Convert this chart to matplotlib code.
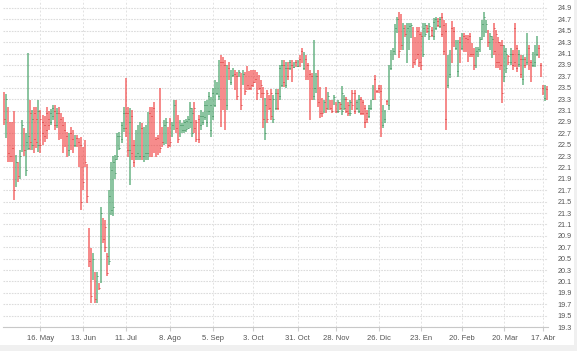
import matplotlib
matplotlib.use("Agg")
import matplotlib.pyplot as plt
from matplotlib.patches import Rectangle
import numpy as np

plt.rcParams['font.family'] = ['Liberation Sans Narrow', 'Liberation Sans', 'DejaVu Sans']

# daily OHLC (Apr 2016 - Apr 2017)
open_ = [23.35, 22.80, 23.05, 22.70, 22.85, 22.90, 21.80, 22.15, 21.95, 22.45,
         22.75, 22.05, 22.45, 23.05, 22.50, 23.05, 22.95, 22.50, 22.95, 22.90,
         22.85, 23.05, 22.95, 22.90, 23.00, 23.10, 22.85, 23.05, 22.95, 22.85,
         22.75, 22.65, 22.40, 22.70, 22.60, 22.50, 22.62, 22.55, 22.50, 22.35,
         22.50, 22.10, 20.95, 20.60, 20.20, 20.15, 19.80, 20.05, 20.15, 21.15,
         21.05, 20.55, 20.45, 21.35, 21.40, 22.00, 22.30, 22.45, 22.60, 22.80,
         23.05, 23.05, 22.40, 23.00, 22.50, 22.30, 22.35, 22.30, 22.80, 22.30,
         22.35, 22.35, 23.05, 23.00, 23.15, 22.60, 22.62, 22.55, 22.75, 22.55,
         22.60, 22.75, 22.90, 22.70, 22.85, 23.20, 22.95, 22.70, 22.75, 22.75,
         22.78, 22.80, 22.90, 22.70, 23.15, 22.90, 22.95, 22.85, 22.90, 22.98,
         22.90, 23.10, 22.75, 23.00, 23.20, 23.40, 23.35, 23.95, 23.95, 23.90,
         23.20, 23.85, 23.60, 23.72, 23.75, 23.70, 23.72, 23.70, 23.60, 23.70,
         23.80, 23.75, 23.75, 23.75, 23.70, 23.70, 23.65, 23.55, 23.40, 22.70,
         23.40, 23.30, 23.40, 22.95, 23.15, 23.40, 23.35, 23.55, 23.90, 23.55,
         23.85, 23.85, 23.90, 23.87, 23.95, 23.88, 24.00, 24.15, 23.85, 24.00,
         23.90, 23.75, 23.70, 23.35, 23.45, 23.70, 23.45, 23.25, 23.10, 23.45,
         23.15, 23.25, 23.25, 23.22, 23.20, 23.10, 23.22, 23.10, 23.15, 23.30,
         23.20, 23.05, 23.40, 23.40, 23.15, 23.10, 23.30, 23.25, 23.15, 23.05,
         23.00, 23.15, 23.30, 23.65, 23.45, 23.50, 23.45, 22.85, 22.95, 23.27,
         23.20, 23.85, 24.05, 24.15, 24.50, 24.75, 24.70, 24.25, 24.55, 24.05,
         24.25, 24.40, 24.50, 24.30, 24.50, 24.45, 24.40, 24.10, 24.45, 24.55,
         24.40, 24.52, 24.40, 24.55, 24.68, 24.58, 24.75, 24.60, 24.50, 23.55,
         23.75, 24.55, 24.50, 24.20, 23.80, 24.30, 24.20, 24.40, 24.38, 24.35,
         24.40, 24.25, 24.15, 23.90, 24.08, 24.15, 24.38, 24.45, 24.50, 24.45,
         24.20, 24.10, 24.55, 24.45, 24.30, 24.25, 24.25, 23.70, 23.85, 24.05,
         23.95, 24.10, 24.55, 24.20, 23.92, 24.00, 23.65, 24.00, 23.95, 24.20,
         23.95, 23.90, 23.95, 24.10, 24.20, 23.90, 23.50, 23.32, 23.48]
high = [23.43, 23.39, 23.16, 22.90, 22.90, 23.10, 22.32, 22.20, 22.40, 22.93,
        22.80, 22.70, 24.11, 23.29, 23.11, 23.16, 23.16, 23.29, 23.11, 23.02,
        23.00, 23.16, 23.10, 23.12, 23.20, 23.20, 23.15, 23.16, 23.05, 22.99,
        22.90, 22.72, 22.70, 22.81, 22.76, 22.67, 22.67, 22.62, 22.64, 22.46,
        22.58, 22.17, 21.04, 20.69, 20.60, 20.27, 20.27, 20.08, 21.41, 21.22,
        21.18, 20.60, 21.71, 22.20, 22.30, 22.32, 22.70, 22.72, 22.90, 23.16,
        23.67, 23.16, 23.14, 23.11, 22.58, 22.76, 22.85, 22.90, 22.88, 22.81,
        22.85, 23.08, 23.16, 23.16, 23.25, 22.64, 22.67, 23.50, 22.81, 22.94,
        22.97, 22.81, 22.97, 22.90, 23.29, 23.29, 23.02, 22.94, 22.88, 22.94,
        22.95, 23.00, 23.25, 23.15, 23.25, 22.94, 23.02, 23.11, 23.07, 23.27,
        23.29, 23.43, 23.33, 23.50, 23.64, 23.60, 23.99, 24.08, 24.04, 23.99,
        23.90, 23.95, 23.81, 23.85, 23.81, 23.78, 23.81, 23.76, 23.81, 23.78,
        23.88, 23.79, 23.81, 23.81, 23.81, 23.78, 23.72, 23.64, 23.51, 23.32,
        23.46, 23.37, 23.48, 23.37, 23.48, 23.48, 23.90, 23.99, 23.99, 23.95,
        23.95, 23.99, 23.99, 23.95, 23.99, 23.99, 24.08, 24.20, 24.13, 24.08,
        23.93, 23.81, 23.76, 24.34, 23.76, 23.81, 23.51, 23.32, 23.29, 23.51,
        23.43, 23.29, 23.29, 23.37, 23.25, 23.29, 23.25, 23.53, 23.37, 23.33,
        23.25, 23.29, 23.46, 23.46, 23.29, 23.37, 23.33, 23.29, 23.20, 23.11,
        23.20, 23.29, 23.55, 23.72, 23.46, 23.55, 23.55, 23.20, 23.11, 23.29,
        23.90, 24.16, 24.20, 24.62, 24.74, 24.83, 24.80, 24.64, 24.60, 24.64,
        24.64, 24.64, 24.57, 24.39, 24.57, 24.57, 24.48, 24.64, 24.64, 24.60,
        24.64, 24.57, 24.72, 24.74, 24.72, 24.74, 24.81, 24.69, 24.64, 24.08,
        24.16, 24.67, 24.57, 24.34, 24.34, 24.39, 24.46, 24.46, 24.43, 24.43,
        24.46, 24.29, 24.20, 24.22, 24.22, 24.39, 24.69, 24.83, 24.69, 24.51,
        24.46, 24.41, 24.64, 24.51, 24.39, 24.30, 24.34, 24.25, 24.20, 24.08,
        24.20, 24.16, 24.64, 24.25, 24.16, 24.08, 24.08, 24.04, 24.46, 24.25,
        23.99, 24.13, 24.25, 24.41, 24.25, 23.93, 23.55, 23.55, 23.53]
low = [22.85, 22.62, 22.20, 22.20, 22.20, 21.53, 21.76, 21.85, 21.90, 22.37,
       22.30, 21.95, 22.40, 22.40, 22.40, 22.35, 22.45, 22.37, 22.35, 22.50,
       22.55, 22.60, 22.75, 22.85, 22.93, 22.75, 22.80, 22.58, 22.60, 22.36,
       22.46, 22.29, 22.30, 22.41, 22.36, 22.46, 22.46, 22.11, 21.36, 21.71,
       22.11, 21.48, 20.36, 19.72, 20.13, 19.72, 19.72, 19.95, 20.08, 20.78,
       20.62, 20.20, 20.39, 21.27, 21.25, 21.90, 22.23, 22.40, 22.53, 22.72,
       22.64, 22.28, 21.79, 22.23, 22.11, 22.23, 22.23, 22.23, 22.23, 22.20,
       22.23, 22.23, 22.28, 22.28, 22.36, 22.28, 22.32, 22.36, 22.46, 22.50,
       22.51, 22.44, 22.46, 22.64, 22.76, 22.71, 22.53, 22.64, 22.71, 22.71,
       22.73, 22.78, 22.80, 22.64, 22.71, 22.55, 22.53, 22.76, 22.85, 22.94,
       22.81, 23.02, 22.64, 22.94, 23.16, 23.37, 23.29, 22.81, 23.11, 22.76,
       23.11, 23.64, 23.55, 23.69, 23.46, 23.29, 23.69, 23.11, 23.55, 23.37,
       23.46, 23.46, 23.46, 23.51, 23.58, 23.29, 23.46, 23.32, 22.79, 22.58,
       22.88, 23.11, 22.94, 22.88, 23.11, 23.11, 23.29, 23.51, 23.51, 23.49,
       23.64, 23.81, 23.60, 23.85, 23.86, 23.86, 23.86, 23.93, 23.81, 23.64,
       23.64, 22.94, 23.29, 23.29, 23.40, 23.16, 22.97, 22.99, 23.06, 23.06,
       23.11, 23.11, 23.06, 23.20, 23.06, 23.06, 23.11, 23.02, 23.11, 23.06,
       23.00, 23.00, 23.11, 23.04, 23.11, 23.06, 23.02, 23.02, 22.79, 22.88,
       22.97, 23.11, 23.29, 23.29, 23.40, 23.40, 22.64, 22.79, 22.88, 23.20,
       23.11, 23.81, 23.99, 24.08, 24.46, 24.02, 24.16, 24.16, 24.39, 23.94,
       24.16, 24.37, 23.85, 23.90, 24.01, 23.87, 23.81, 24.04, 24.39, 24.46,
       24.34, 24.39, 24.34, 24.51, 24.57, 24.55, 24.39, 24.08, 22.76, 23.50,
       23.67, 23.94, 24.22, 24.16, 23.69, 23.94, 24.16, 24.12, 24.12, 23.96,
       24.04, 24.04, 23.81, 23.85, 24.04, 24.13, 24.34, 24.39, 24.46, 24.22,
       24.16, 24.02, 24.08, 23.85, 23.85, 23.81, 23.23, 23.60, 23.76, 23.90,
       23.90, 23.81, 23.87, 23.78, 23.87, 23.67, 23.55, 23.85, 23.90, 23.81,
       23.60, 23.87, 23.87, 24.06, 24.02, 23.69, 23.37, 23.27, 23.29]
close = [22.95, 23.30, 22.35, 22.30, 22.45, 21.70, 22.20, 21.95, 22.30, 22.85,
         22.40, 22.55, 22.65, 22.55, 22.95, 22.60, 22.55, 23.10, 22.50, 22.70,
         22.65, 22.75, 22.85, 23.05, 23.15, 22.85, 23.05, 22.70, 22.70, 22.50,
         22.55, 22.40, 22.60, 22.50, 22.45, 22.60, 22.50, 22.20, 21.50, 21.85,
         22.20, 21.60, 20.45, 19.85, 20.50, 19.80, 20.20, 19.98, 21.30, 20.85,
         20.70, 20.25, 21.60, 22.05, 22.20, 22.25, 22.65, 22.65, 22.85, 23.05,
         22.80, 22.40, 22.90, 22.35, 22.20, 22.65, 22.75, 22.80, 22.35, 22.70,
         22.75, 23.00, 22.40, 22.45, 22.50, 22.35, 22.40, 22.45, 22.55, 22.85,
         22.90, 22.50, 22.55, 22.85, 23.20, 22.80, 22.60, 22.85, 22.85, 22.90,
         22.92, 22.95, 23.15, 23.05, 22.80, 22.60, 22.60, 23.00, 23.00, 23.20,
         23.20, 23.35, 23.20, 23.40, 23.55, 23.55, 23.90, 22.95, 23.25, 22.95,
         23.80, 23.70, 23.75, 23.80, 23.55, 23.35, 23.78, 23.20, 23.75, 23.45,
         23.55, 23.50, 23.55, 23.60, 23.65, 23.40, 23.50, 23.40, 22.95, 23.20,
         22.95, 23.15, 23.00, 23.30, 23.40, 23.15, 23.85, 23.90, 23.60, 23.85,
         23.70, 23.95, 23.65, 23.93, 23.90, 23.96, 23.90, 24.00, 24.05, 23.70,
         23.70, 23.05, 23.35, 23.50, 23.70, 23.25, 23.05, 23.05, 23.25, 23.15,
         23.35, 23.15, 23.10, 23.33, 23.10, 23.25, 23.15, 23.40, 23.30, 23.10,
         23.05, 23.25, 23.20, 23.10, 23.25, 23.30, 23.05, 23.05, 22.90, 22.95,
         23.15, 23.25, 23.50, 23.35, 23.42, 23.45, 22.80, 23.10, 23.05, 23.22,
         23.85, 24.10, 24.15, 24.55, 24.70, 24.15, 24.25, 24.55, 24.45, 24.55,
         24.58, 24.60, 23.95, 24.00, 24.10, 23.95, 23.90, 24.55, 24.60, 24.50,
         24.58, 24.42, 24.65, 24.70, 24.60, 24.70, 24.45, 24.15, 22.95, 23.95,
         24.05, 24.05, 24.30, 24.30, 24.25, 24.00, 24.40, 24.20, 24.20, 24.05,
         24.10, 24.10, 23.90, 24.15, 24.18, 24.35, 24.62, 24.75, 24.62, 24.30,
         24.40, 24.35, 24.15, 23.95, 23.95, 23.90, 23.40, 24.15, 24.10, 23.95,
         24.10, 23.90, 23.95, 23.85, 24.10, 23.75, 24.00, 23.90, 24.35, 23.90,
         23.70, 24.05, 24.15, 24.35, 24.08, 23.75, 23.42, 23.50, 23.35]

# x-axis categories: bar index of each labelled date
tick_idx = [18, 39, 60, 82, 103, 123, 145, 164, 185, 206, 226, 247, 266]
tick_labels = ['16. May', '13. Jun', '11. Jul', '8. Ago', '5. Sep', '3. Oct',
               '31. Oct', '28. Nov', '26. Dic', '23. En', '20. Feb', '20. Mar',
               '17. Abr']
y_ticks = [19.3, 19.5, 19.7, 19.9, 20.1, 20.3, 20.5, 20.7, 20.9, 21.1, 21.3,
           21.5, 21.7, 21.9, 22.1, 22.3, 22.5, 22.7, 22.9, 23.1, 23.3, 23.5,
           23.7, 23.9, 24.1, 24.3, 24.5, 24.7, 24.9]

W, H = 577, 351
fig = plt.figure(figsize=(W / 100, H / 100), dpi=100, facecolor='#f0f0f0')
card = Rectangle((0, 6 / H), 574 / W, 1 - 6 / H, transform=fig.transFigure,
                 facecolor='white', edgecolor='none', zorder=-10)
fig.patches.append(card)
ax = fig.add_axes([3 / W, 24 / H, 545 / W, 327 / H])
ax.set_facecolor('white')

n = len(close)
x = np.arange(n)
o = np.array(open_)
c = np.array(close)
up = c >= o
col = np.where(up, '#2f9655', '#f03030')
dark = np.where(up, '#1f7a40', '#d01818')

ax.vlines(x, low, high, colors=col, linewidth=1.1, alpha=0.72, zorder=3)
ax.hlines(o, x - 0.25, x + 0.1, colors=dark, linewidth=0.6, alpha=0.9, zorder=4)
ax.hlines(c, x - 0.1, x + 0.25, colors=dark, linewidth=0.6, alpha=0.9, zorder=4)

ax.set_xlim(-0.5, n - 0.5)
ax.set_ylim(19.3, 24.9 + 8 / 57)

for yt in y_ticks:
    ax.axhline(yt, color='#dcdcdc', linewidth=0.8, linestyle=(0, (1.5, 1)), zorder=1)
for xt in tick_idx:
    ax.axvline(xt, color='#e2e2e2', linewidth=0.7, linestyle=(0, (2, 2)), zorder=1)

ax.set_xticks(tick_idx)
ax.set_xticklabels(tick_labels)
ax.yaxis.tick_right()
ax.set_yticks(y_ticks)
ax.set_yticklabels([f'{v:.1f}' for v in y_ticks])
ax.tick_params(axis='x', length=3, color='#cccccc', pad=3, labelsize=5.5, labelcolor='#555555')
ax.tick_params(axis='y', length=0, pad=7, labelsize=5.2, labelcolor='#555555')

for side in ['top', 'left', 'right']:
    ax.spines[side].set_visible(False)
ax.spines['bottom'].set_color('#c8c8c8')
ax.spines['bottom'].set_linewidth(0.8)

fig.savefig('out.png', dpi=100, facecolor=fig.get_facecolor())
